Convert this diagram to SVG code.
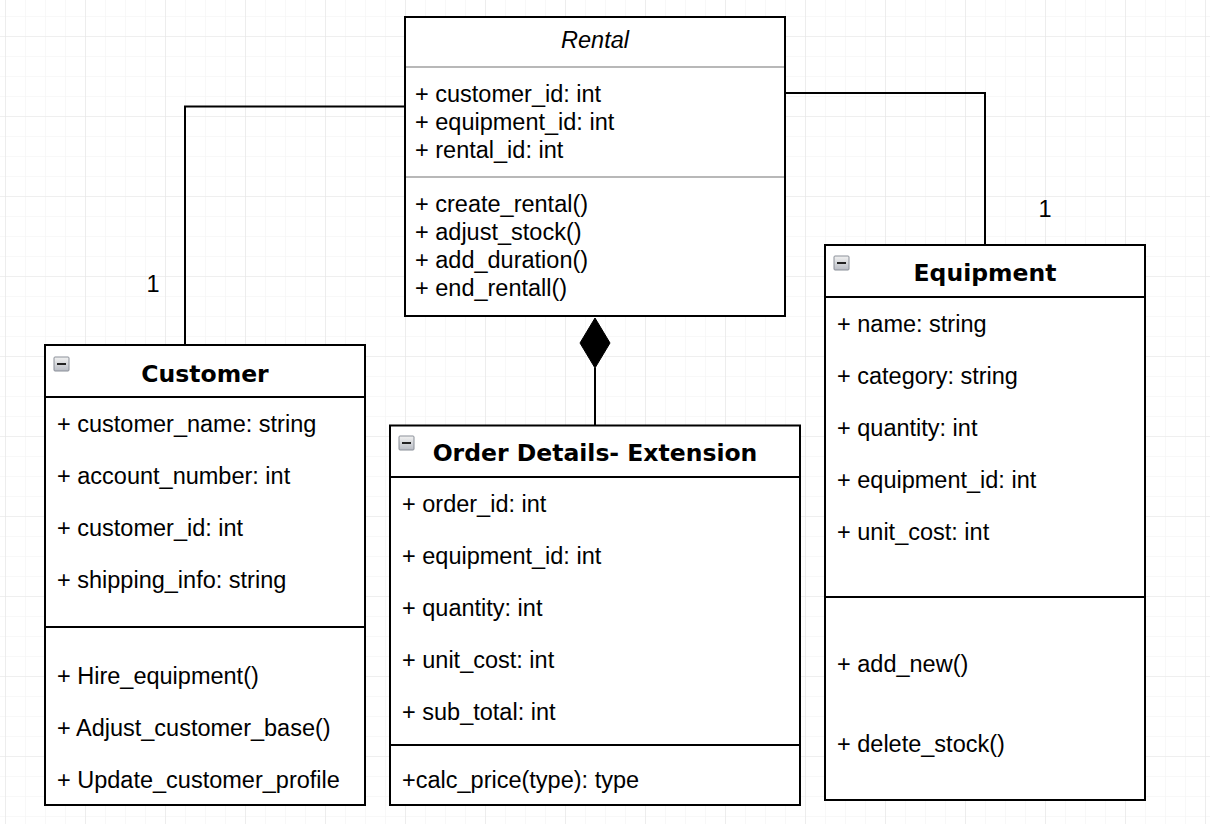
<svg xmlns="http://www.w3.org/2000/svg" width="1210" height="824" viewBox="0 0 1210 824">
<defs>
<pattern id="minor" x="5" y="16" width="20" height="20" patternUnits="userSpaceOnUse">
<path d="M0 0H20M0 0V20" fill="none" stroke="#f2f2f2" stroke-width="1"/>
</pattern>
<pattern id="major" x="5" y="36" width="80" height="80" patternUnits="userSpaceOnUse">
<path d="M0 0H80M0 0V80" fill="none" stroke="#e6e6e6" stroke-width="1.2"/>
</pattern>
<linearGradient id="ig" x1="0" y1="0" x2="0" y2="1">
<stop offset="0" stop-color="#f2f2f2"/>
<stop offset="1" stop-color="#b8bcc4"/>
</linearGradient>
</defs>
<style>
.box{fill:#fff;stroke:#000;stroke-width:2}
.sep{stroke:#000;stroke-width:2}
.gsep{stroke:#a0a0a0;stroke-width:1.5}
.t{font-family:"Liberation Sans",Arial,Helvetica,sans-serif;font-size:23.5px;fill:#000}
.ti{font-family:"Liberation Sans",Arial,Helvetica,sans-serif;font-size:23.5px;font-style:italic;fill:#000}
.tb{font-family:"DejaVu Sans",Verdana,sans-serif;font-size:23.5px;font-weight:bold;fill:#000}
.conn{fill:none;stroke:#000;stroke-width:2}
.icon{fill:url(#ig);stroke:#8a8f98;stroke-width:1}
.minus{stroke:#222;stroke-width:2}
</style>
<rect width="1210" height="824" fill="#fff"/>
<rect width="1210" height="824" fill="url(#minor)"/>
<rect width="1210" height="824" fill="url(#major)"/>

<g id="connectors">
<path class="conn" d="M405 106.5H185V345"/>
<path class="conn" d="M785 93H985V245"/>
<path class="conn" d="M595 368V425"/>
<path d="M595 318L610 343L595 368L580 343Z" fill="#000" stroke="#000" stroke-width="1"/>
<text class="t" x="153" y="292" text-anchor="middle">1</text>
<text class="t" x="1045" y="217" text-anchor="middle">1</text>
</g>

<g id="rental">
<rect class="box" x="405" y="17" width="380" height="299"/>
<text class="ti" x="595" y="48" text-anchor="middle">Rental</text>
<line class="gsep" x1="406" y1="67" x2="784" y2="67"/>
<text class="t" x="415" y="101.5">+ customer_id: int</text>
<text class="t" x="415" y="129.5">+ equipment_id: int</text>
<text class="t" x="415" y="157.5">+ rental_id: int</text>
<line class="gsep" x1="406" y1="177" x2="784" y2="177"/>
<text class="t" x="415" y="211.5">+ create_rental()</text>
<text class="t" x="415" y="239.5">+ adjust_stock()</text>
<text class="t" x="415" y="267.5">+ add_duration()</text>
<text class="t" x="415" y="295.5">+ end_rentall()</text>
</g>

<g id="customer">
<rect class="box" x="45" y="345" width="320" height="460"/>
<rect class="icon" x="54" y="357" width="15" height="14" rx="1"/>
<line class="minus" x1="57" y1="364" x2="66" y2="364"/>
<text class="tb" x="205" y="381.5" text-anchor="middle">Customer</text>
<line class="sep" x1="45" y1="397" x2="365" y2="397"/>
<text class="t" x="57" y="431.5">+ customer_name: string</text>
<text class="t" x="57" y="483.5">+ account_number: int</text>
<text class="t" x="57" y="535.5">+ customer_id: int</text>
<text class="t" x="57" y="587.5">+ shipping_info: string</text>
<line class="sep" x1="45" y1="627" x2="365" y2="627"/>
<text class="t" x="57" y="683.5">+ Hire_equipment()</text>
<text class="t" x="57" y="735.5">+ Adjust_customer_base()</text>
<text class="t" x="57" y="787.5">+ Update_customer_profile</text>
</g>

<g id="order-details">
<rect class="box" x="390" y="425.5" width="410" height="379.5"/>
<rect class="icon" x="399" y="436" width="15" height="14" rx="1"/>
<line class="minus" x1="402" y1="443" x2="411" y2="443"/>
<text class="tb" x="595" y="460.5" text-anchor="middle">Order Details- Extension</text>
<line class="sep" x1="390" y1="477" x2="800" y2="477"/>
<text class="t" x="402" y="511.5">+ order_id: int</text>
<text class="t" x="402" y="563.5">+ equipment_id: int</text>
<text class="t" x="402" y="615.5">+ quantity: int</text>
<text class="t" x="402" y="667.5">+ unit_cost: int</text>
<text class="t" x="402" y="719.5">+ sub_total: int</text>
<line class="sep" x1="390" y1="745" x2="800" y2="745"/>
<text class="t" x="402" y="787.5">+calc_price(type): type</text>
</g>

<g id="equipment">
<rect class="box" x="825" y="245" width="320" height="555"/>
<rect class="icon" x="834" y="256" width="15" height="14" rx="1"/>
<line class="minus" x1="837" y1="263" x2="846" y2="263"/>
<text class="tb" x="985" y="280.5" text-anchor="middle">Equipment</text>
<line class="sep" x1="825" y1="297" x2="1145" y2="297"/>
<text class="t" x="837" y="331.5">+ name: string</text>
<text class="t" x="837" y="383.5">+ category: string</text>
<text class="t" x="837" y="435.5">+ quantity: int</text>
<text class="t" x="837" y="487.5">+ equipment_id: int</text>
<text class="t" x="837" y="539.5">+ unit_cost: int</text>
<line class="sep" x1="825" y1="597" x2="1145" y2="597"/>
<text class="t" x="837" y="671.5">+ add_new()</text>
<text class="t" x="837" y="751.5">+ delete_stock()</text>
</g>
</svg>
